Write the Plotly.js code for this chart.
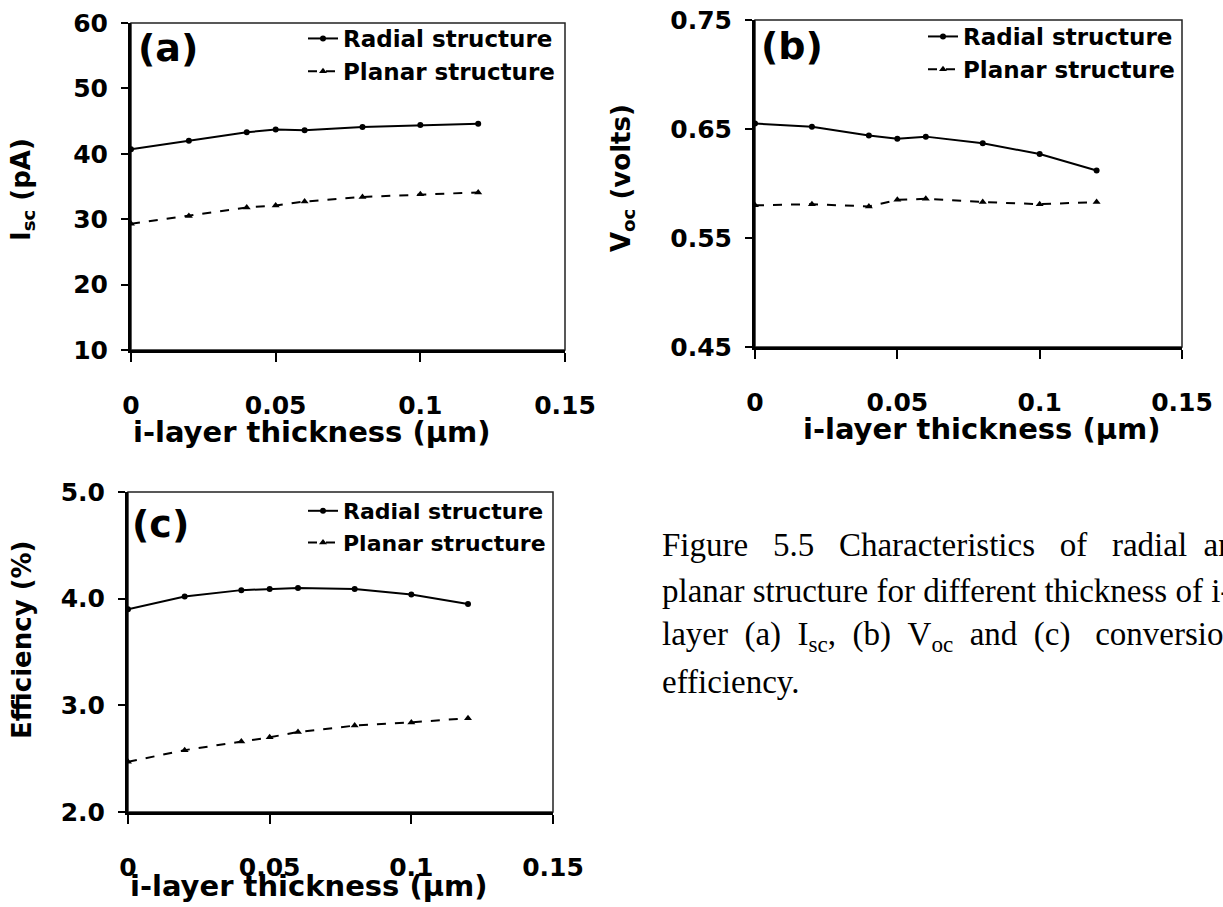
<!DOCTYPE html>
<html>
<head>
<meta charset="utf-8">
<script src="https://cdn.plot.ly/plotly-3.0.1.min.js"></script>
<style>html,body{margin:0;padding:0;background:#fff;}#chart{width:1223px;height:907px;}</style>
</head>
<body>
<div id="chart"></div>
<script>
// ---- data ----
const thickness = [0, 0.02, 0.04, 0.05, 0.06, 0.08, 0.1, 0.12];
const iscRadial = [40.7, 42.0, 43.3, 43.7, 43.6, 44.1, 44.4, 44.6];
const iscPlanar = [29.3, 30.5, 31.8, 32.1, 32.7, 33.4, 33.8, 34.1];
const vocRadial = [0.655, 0.652, 0.644, 0.641, 0.643, 0.637, 0.627, 0.612];
const vocPlanar = [0.580, 0.581, 0.579, 0.585, 0.586, 0.583, 0.581, 0.583];
const effRadial = [3.90, 4.02, 4.08, 4.09, 4.10, 4.09, 4.04, 3.95];
const effPlanar = [2.47, 2.58, 2.66, 2.70, 2.75, 2.81, 2.84, 2.88];
const seriesNames = ['Radial structure', 'Planar structure'];
const xTicks = [0, 0.05, 0.1, 0.15];
const xTickText = ['0', '0.05', '0.1', '0.15'];
const iscTicks = [10, 20, 30, 40, 50, 60];
const vocTicks = [0.45, 0.55, 0.65, 0.75];
const vocTickText = ['0.45', '0.55', '0.65', '0.75'];
const effTicks = [2, 3, 4, 5];
const effTickText = ['2.0', '3.0', '4.0', '5.0'];
const xTitle = 'i-layer thickness (µm)';
const yTitles = ['I<sub>sc</sub> (pA)', 'V<sub>oc</sub> (volts)', 'Efficiency (%)'];
const panelLabels = ['(a)', '(b)', '(c)'];
const captionLines = [
  'Figure&nbsp;&nbsp;&nbsp;5.5&nbsp;&nbsp;&nbsp;Characteristics&nbsp;&nbsp;&nbsp;of&nbsp;&nbsp;&nbsp;radial&nbsp;&nbsp;and',
  'planar structure for different thickness of i-',
  'layer&nbsp;&nbsp;(a)&nbsp;&nbsp;I<sub>sc</sub>,&nbsp;&nbsp;(b)&nbsp;&nbsp;V<sub>oc</sub>&nbsp;&nbsp;and&nbsp;&nbsp;(c)&nbsp;&nbsp;&nbsp;conversion',
  'efficiency.'
];

// ---- layout helpers ----
const W = 1223, H = 907;
const px = v => v / W;
const py = v => 1 - v / H;
const FONT = '"DejaVu Sans", Lato, sans-serif';
const black = '#000';

function mkTraces(xa, ya, leg, radial, planar) {
  return [
    {x: thickness, y: radial, xaxis: xa, yaxis: ya, name: seriesNames[0], legend: leg, legendgroup: leg + 'r',
     mode: 'lines+markers', line: {color: black, width: 2}, marker: {symbol: 'circle', size: 6, color: black}},
    {x: thickness, y: planar, xaxis: xa, yaxis: ya, name: seriesNames[1], legend: leg, legendgroup: leg + 'p',
     mode: 'lines+markers', line: {color: black, width: 2, dash: 'dash'}, marker: {symbol: 'triangle-up', size: 7, color: black}}
  ];
}

const data = [
  ...mkTraces('x', 'y', 'legend', iscRadial, iscPlanar),
  ...mkTraces('x2', 'y2', 'legend2', vocRadial, vocPlanar),
  ...mkTraces('x3', 'y3', 'legend3', effRadial, effPlanar)
];

const tickFont = {family: FONT, size: 25, color: black, weight: 'bold'};
function xAxis(dom, anchor) {
  return {domain: dom, anchor: anchor, range: [0, 0.15], tickvals: xTicks, ticktext: xTickText,
    showgrid: false, zeroline: false, showline: true, linewidth: 2.5, linecolor: black,
    ticks: 'outside', ticklen: 9, tickwidth: 2, tickcolor: black, tickfont: tickFont,
    ticklabelstandoff: 22, fixedrange: true};
}
function yAxis(dom, anchor, range, vals, text) {
  const a = {domain: dom, anchor: anchor, range: range, tickvals: vals,
    showgrid: false, zeroline: false, showline: true, linewidth: 3, linecolor: black,
    ticks: 'outside', ticklen: 7, tickwidth: 2, tickcolor: black, tickfont: tickFont,
    ticklabelstandoff: 8, fixedrange: true};
  if (text) a.ticktext = text;
  return a;
}
function legend(x, y, size) {
  return {x: x, y: y, xref: 'paper', yref: 'paper', xanchor: 'right', yanchor: 'top',
    bgcolor: 'rgba(0,0,0,0)', borderwidth: 0, itemwidth: 30, tracegroupgap: 0, traceorder: 'grouped',
    font: {family: FONT, size: size, color: black, weight: 'bold'}};
}
function frame(xr, yr) {
  return {type: 'rect', xref: xr + ' domain', yref: yr + ' domain', x0: 0, x1: 1, y0: 0, y1: 1,
    line: {color: '#222', width: 1.5}, layer: 'below'};
}
function ann(text, x, y, size, extra) {
  return Object.assign({text: text, x: px(x), y: py(y), xref: 'paper', yref: 'paper', showarrow: false,
    xanchor: 'center', yanchor: 'middle',
    font: {family: FONT, size: size, color: black, weight: 'bold'}}, extra || {});
}

const annotations = [
  ann(panelLabels[0], 168, 48, 38),
  ann(panelLabels[1], 792, 46, 38),
  ann(panelLabels[2], 160, 524, 38),
  ann(xTitle, 312, 432, 29),
  ann(xTitle, 982, 429, 29),
  ann(xTitle, 309, 886, 29),
  ann(yTitles[0], 22, 190, 26, {textangle: -90}),
  ann(yTitles[1], 622, 178, 26, {textangle: -90}),
  ann(yTitles[2], 22, 640, 26, {textangle: -90})
];
captionLines.forEach((t, i) => {
  annotations.push({text: t, x: px(660), y: py(545 + i * 45.5), xref: 'paper', yref: 'paper',
    xanchor: 'left', yanchor: 'middle', showarrow: false, align: 'left',
    font: {family: '"Liberation Serif", "Times New Roman", serif', size: 33, color: black}});
});

const layout = {
  width: W, height: H, margin: {l: 0, r: 0, t: 0, b: 0},
  paper_bgcolor: '#fff', plot_bgcolor: '#fff', showlegend: true,
  xaxis: xAxis([px(131), px(565)], 'y'),
  yaxis: yAxis([py(350), py(23)], 'x', [10, 60], iscTicks),
  xaxis2: xAxis([px(755), px(1182)], 'y2'),
  yaxis2: yAxis([py(347), py(20)], 'x2', [0.45, 0.75], vocTicks, vocTickText),
  xaxis3: xAxis([px(128), px(553)], 'y3'),
  yaxis3: yAxis([py(812), py(492)], 'x3', [2, 5], effTicks, effTickText),
  legend: legend(px(560), py(17), 23),
  legend2: legend(px(1180), py(15), 23),
  legend3: legend(px(551), py(490), 22),
  shapes: [frame('x', 'y'), frame('x2', 'y2'), frame('x3', 'y3')],
  annotations: annotations
};

Plotly.newPlot('chart', data, layout, {displayModeBar: false, staticPlot: true});
</script>
</body>
</html>
